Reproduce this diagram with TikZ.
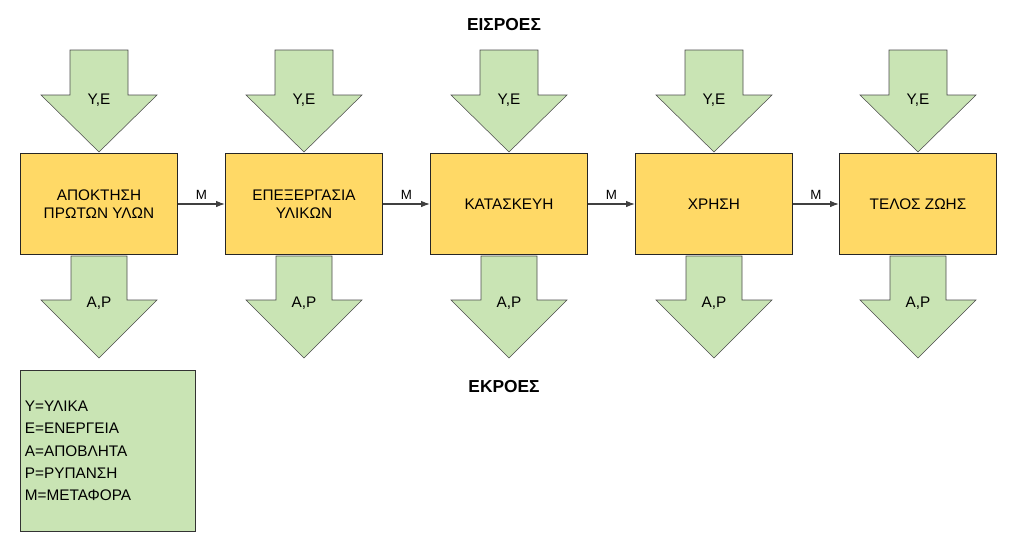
\documentclass[tikz,border=0pt]{standalone}
\usepackage{fontspec}
\setmainfont{Liberation Sans}
\usetikzlibrary{positioning,arrows.meta}
\definecolor{boxyellow}{HTML}{FFD966}
\definecolor{arrowgreen}{HTML}{C9E4B4}
\begin{document}
\begin{tikzpicture}[x=0.75pt,y=-0.75pt,>=Latex,font=\fontsize{11.5}{13.5}\selectfont]

	\tikzset{stage/.style={draw=black!85,thick,fill=boxyellow,minimum width=118pt,minimum height=76pt,align=center,inner sep=0pt},
		flow/.style={draw=black!70,fill=arrowgreen,line join=miter}}
	\useasboundingbox (0,0) rectangle (1023,550);

	% big arrows: in and out
	\foreach \cx in {99,304,509,714,918} {
		\draw[flow] (\cx-29,50) -- (\cx+29,50) -- (\cx+29,95) -- (\cx+58,95) -- (\cx,152) -- (\cx-58,95) -- (\cx-29,95) -- cycle;
		\draw[flow] (\cx-28,256) -- (\cx+28,256) -- (\cx+28,300) -- (\cx+58,300) -- (\cx,358) -- (\cx-58,300) -- (\cx-28,300) -- cycle;
		\node at (\cx,100) {Υ,Ε};
		\node at (\cx,303) {Α,Ρ};
	}

	\node[stage] (s1) at (99,204) {ΑΠΟΚΤΗΣΗ\\ΠΡΩΤΩΝ ΥΛΩΝ};
	\node[stage] (s2) at (304,204) {ΕΠΕΞΕΡΓΑΣΙΑ\\ΥΛΙΚΩΝ};
	\node[stage] (s3) at (509,204) {ΚΑΤΑΣΚΕΥΗ};
	\node[stage] (s4) at (714,204) {ΧΡΗΣΗ};
	\node[stage] (s5) at (918,204) {ΤΕΛΟΣ ΖΩΗΣ};

	\foreach \a/\b in {s1/s2,s2/s3,s3/s4,s4/s5}
		\draw[->,thick,black!75] (\a) -- node[above,font=\fontsize{10}{12}\selectfont,black] {Μ} (\b);

	\node[font=\bfseries\fontsize{13}{15}\selectfont] (in) at (504,25) {ΕΙΣΡΟΕΣ};
	\node[font=\bfseries\fontsize{13}{15}\selectfont] (out) at (504,387) {ΕΚΡΟΕΣ};

	\node[draw=black!80,fill=arrowgreen,minimum width=131pt,minimum height=121pt,align=left,anchor=north west,inner sep=3pt,text width=124pt,font=\fontsize{11.5}{16.8}\selectfont] (key) at (20,370)
		{Υ=ΥΛΙΚΑ\\Ε=ΕΝΕΡΓΕΙΑ\\Α=ΑΠΟΒΛΗΤΑ\\Ρ=ΡΥΠΑΝΣΗ\\Μ=ΜΕΤΑΦΟΡΑ};
\end{tikzpicture}
\end{document}
